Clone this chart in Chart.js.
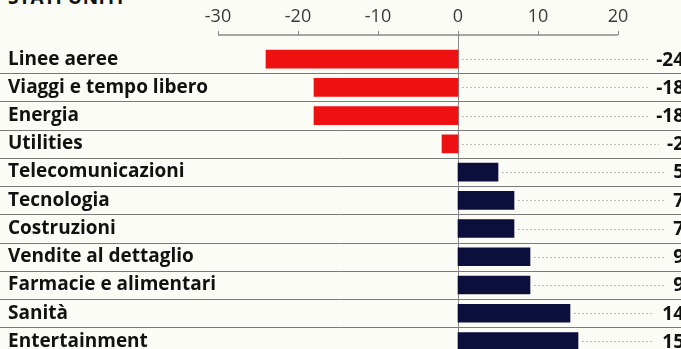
<!DOCTYPE html>
<html lang="it">
<head>
<meta charset="utf-8">
<title>Stati Uniti - settori</title>
<script src="https://cdn.jsdelivr.net/npm/chart.js@4.4.1/dist/chart.umd.min.js"></script>
<style>
    html, body { margin: 0; padding: 0; background: #fcfcf6; overflow: hidden; }
    #wrap { position: relative; width: 681px; height: 349px; overflow: hidden; }
    #title {
        position: absolute; left: 8px; top: -12px;
        font: bold 19px/19px 'Open Sans', sans-serif; color: #111; letter-spacing: 0.5px;
    }
    canvas { position: absolute; left: 0; top: 0; }
</style>
</head>
<body>
<div id="wrap">
    <div id="title">STATI UNITI</div>
    <canvas id="chart" width="681" height="370"></canvas>
</div>
<script>
// Dati (variazione % per settore)
const sectors = [
    'Linee aeree', 'Viaggi e tempo libero', 'Energia', 'Utilities',
    'Telecomunicazioni', 'Tecnologia', 'Costruzioni', 'Vendite al dettaglio',
    'Farmacie e alimentari', 'Sanità', 'Entertainment'
];
const values = [-24, -18, -18, -2, 5, 7, 7, 9, 9, 14, 15];
const tickValues = [-30, -20, -10, 0, 10, 20];

const RED = '#ee1111';
const NAVY = '#0c0e3b';
const FONT = "'Open Sans', sans-serif";

// Disegna asse superiore, linea dello zero, separatori, puntini e valori
const decorPlugin = {
    id: 'decor',
    beforeDatasetsDraw(chart) {
        const { ctx, scales: { x, y }, width, height } = chart;
        const axisY = 35;
        ctx.save();

        // separatori tra le righe
        ctx.strokeStyle = '#7a7a7a';
        ctx.lineWidth = 1;
        for (let i = 0; i < sectors.length - 1; i++) {
            const yy = Math.round((y.getPixelForValue(i) + y.getPixelForValue(i + 1)) / 2) + 0.5;
            ctx.beginPath();
            ctx.moveTo(0, yy);
            ctx.lineTo(width, yy);
            ctx.stroke();
        }

        // asse in alto con tacche
        ctx.strokeStyle = '#8a8a8a';
        ctx.lineWidth = 1.5;
        ctx.beginPath();
        ctx.moveTo(x.getPixelForValue(tickValues[0]), axisY);
        ctx.lineTo(x.getPixelForValue(tickValues[tickValues.length - 1]), axisY);
        ctx.stroke();
        ctx.lineWidth = 1;
        tickValues.forEach(v => {
            const xx = Math.round(x.getPixelForValue(v)) + 0.5;
            ctx.beginPath();
            ctx.moveTo(xx, axisY - 4);
            ctx.lineTo(xx, axisY);
            ctx.stroke();
        });

        // linea dello zero
        const x0 = Math.round(x.getPixelForValue(0)) + 0.5;
        ctx.strokeStyle = '#888';
        ctx.beginPath();
        ctx.moveTo(x0, axisY);
        ctx.lineTo(x0, height);
        ctx.stroke();

        ctx.restore();
    },
    afterDatasetsDraw(chart) {
        const { ctx, scales: { x, y }, width } = chart;
        ctx.save();
        ctx.font = 'bold 19px ' + FONT;
        ctx.textAlign = 'right';
        ctx.textBaseline = 'middle';
        const x0 = x.getPixelForValue(0);
        values.forEach((v, i) => {
            const yy = y.getPixelForValue(i);
            const label = String(v);
            const textRight = width + 3;
            const textLeft = textRight - ctx.measureText(label).width;

            // linea puntinata
            const start = (v < 0 ? x0 : x.getPixelForValue(v)) + 4;
            ctx.strokeStyle = '#bbbbbb';
            ctx.lineWidth = 1;
            ctx.setLineDash([2, 2]);
            ctx.beginPath();
            ctx.moveTo(start, Math.round(yy) + 0.5);
            ctx.lineTo(textLeft - 8, Math.round(yy) + 0.5);
            ctx.stroke();
            ctx.setLineDash([]);

            ctx.fillStyle = '#111';
            ctx.fillText(label, textRight, yy + 1);
        });
        ctx.restore();
    }
};

new Chart(document.getElementById('chart'), {
    type: 'bar',
    data: {
        labels: sectors,
        datasets: [{
            data: values,
            backgroundColor: values.map(v => v < 0 ? RED : NAVY),
            borderWidth: 0,
            barThickness: 18
        }]
    },
    options: {
        indexAxis: 'y',
        responsive: false,
        animation: false,
        layout: { padding: { left: 8, right: 39, top: 0, bottom: 0 } },
        plugins: {
            legend: { display: false },
            tooltip: { enabled: false }
        },
        scales: {
            x: {
                position: 'top',
                min: -30,
                max: 23,
                afterFit: scale => { scale.height = 45; },
                grid: { display: false, drawTicks: false },
                border: { display: false },
                ticks: {
                    stepSize: 10,
                    includeBounds: false,
                    padding: 17,
                    color: '#3a3a3a',
                    font: { family: FONT, size: 18 },
                    callback: v => (tickValues.includes(v) ? String(v) : '')
                }
            },
            y: {
                afterFit: scale => { scale.width = 210; },
                grid: { display: false },
                border: { display: false },
                ticks: {
                    crossAlign: 'far',
                    color: '#111',
                    font: { family: FONT, size: 19, weight: 'bold' }
                }
            }
        }
    },
    plugins: [decorPlugin]
});
</script>
</body>
</html>
